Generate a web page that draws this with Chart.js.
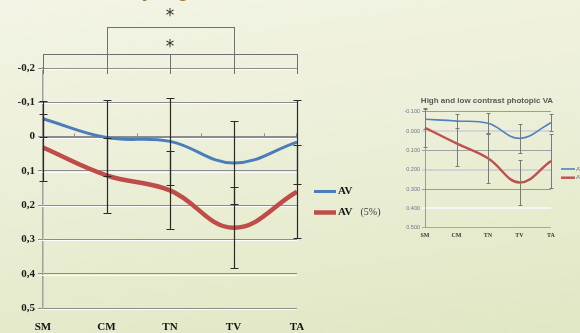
<!DOCTYPE html>
<html>
<head>
<meta charset="utf-8">
<script src="https://cdn.jsdelivr.net/npm/chart.js@4.4.1/dist/chart.umd.min.js"></script>
<style>
  html, body { margin: 0; padding: 0; }
  body {
    width: 580px; height: 333px; overflow: hidden; position: relative;
    background: linear-gradient(172deg, #f3f4e5 0%, #ecefd8 45%, #e0e7c3 100%);
  }
  #heading {
    position: absolute; left: 25px; top: -25px;
    font: 23px "Liberation Sans", sans-serif; color: #9c7d2c; white-space: nowrap;
  }
  #main { position: absolute; left: 0; top: 0; width: 400px; height: 333px; }
  #inset { position: absolute; left: 390px; top: 90px; width: 190px; height: 160px; }
</style>
</head>
<body>
<div id="heading">Visual acuity significance</div>
<canvas id="main" width="400" height="333"></canvas>
<canvas id="inset" width="190" height="160"></canvas>
<script>
// ---- data: main chart (mean and error per category) ----
const categories = ['SM', 'CM', 'TN', 'TV', 'TA'];
const seriesNames = ['AV', 'AV (5%)'];
const avMean  = [-0.052, 0.003, 0.014, 0.077, 0.016];
const avErr   = [0.052, 0.111, 0.127, 0.121, 0.122];
const av5Mean = [0.032, 0.113, 0.157, 0.266, 0.161];
const av5Err  = [0.097, 0.110, 0.114, 0.118, 0.136];
const yTickValues = [-0.2, -0.1, 0, 0.1, 0.2, 0.3, 0.4, 0.5];
const yTickLabels = ['-0,2', '-0,1', '0', '0,1', '0,2', '0,3', '0,4', '0,5'];

// significance brackets between categories
const sigBracketsData = [
  { from: 'SM', to: 'TA', mark: '*', markAt: 'TN' },
  { from: 'CM', to: 'TV', mark: '*', markAt: 'TN' }
];

// ---- data: small chart ----
const insetTitle = 'High and low contrast photopic VA';
const insetAvMean  = [-0.061, -0.052, -0.040, 0.038, -0.043];
const insetAvErr   = [0.051, 0.036, 0.052, 0.075, 0.044];
const insetAv5Mean = [-0.017, 0.064, 0.141, 0.266, 0.155];
const insetAv5Err  = [0.100, 0.116, 0.127, 0.118, 0.139];
const insetYTickValues = [-0.1, 0, 0.1, 0.2, 0.3, 0.4, 0.5];
const insetYTickLabels = ['-0.100', '0.000', '0.100', '0.200', '0.300', '0.400', '0.500'];

// index of the tick closest to a value
const tickIndex = (values, v) => {
  let best = 0;
  values.forEach((t, i) => { if (Math.abs(t - v) < Math.abs(values[best] - v)) best = i; });
  return best;
};

// ---- plugins ----
const errorBars = {
  id: 'errorBars',
  afterDatasetsDraw(chart, args, o) {
    const { ctx } = chart;
    const xs = chart.scales.x, ys = chart.scales.y;
    ctx.save();
    ctx.strokeStyle = o.color;
    ctx.lineWidth = o.width;
    chart.data.datasets.forEach(ds => {
      ds.data.forEach((v, i) => {
        const e = ds.errors[i];
        const px = Math.round(xs.getPixelForValue(i)) + 0.5;
        const y1 = Math.round(ys.getPixelForValue(v - e)) + 0.5;
        const y2 = Math.round(ys.getPixelForValue(v + e)) + 0.5;
        ctx.beginPath();
        ctx.moveTo(px, y1); ctx.lineTo(px, y2);
        ctx.moveTo(px - o.cap, y1); ctx.lineTo(px + o.cap, y1);
        ctx.moveTo(px - o.cap, y2); ctx.lineTo(px + o.cap, y2);
        ctx.stroke();
      });
    });
    ctx.restore();
  }
};

// light highlight under each horizontal gridline, plus the category axis at value 0
const axisDecor = {
  id: 'axisDecor',
  beforeDatasetsDraw(chart, args, o) {
    const { ctx, chartArea } = chart;
    const xs = chart.scales.x, ys = chart.scales.y;
    ctx.save();
    if (o.highlight) {
      ctx.strokeStyle = o.highlight;
      ctx.lineWidth = 1;
      ys.ticks.forEach(t => {
        const py = Math.round(ys.getPixelForValue(t.value)) + 1.5;
        ctx.beginPath();
        ctx.moveTo(chartArea.left - o.tickOut, py);
        ctx.lineTo(chartArea.right, py);
        ctx.stroke();
      });
    }
    if (o.zeroAxis) {
      const y0 = Math.round(ys.getPixelForValue(0)) + 0.5;
      ctx.strokeStyle = o.zeroAxis;
      ctx.lineWidth = 1;
      ctx.beginPath();
      ctx.moveTo(chartArea.left, y0); ctx.lineTo(chartArea.right, y0);
      const n = chart.data.labels.length;
      const step = xs.getPixelForValue(1) - xs.getPixelForValue(0);
      for (let i = 0; i < n; i++) {
        const bx = Math.min(Math.round(xs.getPixelForValue(i) + step / 2), chartArea.right) - 0.5;
        ctx.moveTo(bx, y0); ctx.lineTo(bx, y0 - o.tickUp);
      }
      ctx.stroke();
    }
    ctx.restore();
  }
};

const sideLegend = {
  id: 'sideLegend',
  afterDraw(chart, args, o) {
    const { ctx } = chart;
    ctx.save();
    chart.data.datasets.forEach((ds, i) => {
      const y = o.y + i * o.gap;
      ctx.strokeStyle = ds.borderColor;
      ctx.lineWidth = ds.borderWidth;
      ctx.beginPath();
      ctx.moveTo(o.x, y); ctx.lineTo(o.x + o.len, y);
      ctx.stroke();
      ctx.textBaseline = 'middle';
      ctx.fillStyle = o.color;
      const parts = ds.label.split(' ');
      ctx.font = o.font;
      const tx = o.x + o.len + o.pad;
      ctx.fillText(parts[0], tx, y);
      if (parts.length > 1) {
        const w = ctx.measureText(parts[0]).width;
        ctx.font = o.subFont || o.font;
        ctx.fillStyle = o.subColor || o.color;
        ctx.fillText(parts.slice(1).join(' '), tx + w + o.subGap, y);
      }
    });
    ctx.restore();
  }
};

const sigBrackets = {
  id: 'sigBrackets',
  afterDraw(chart, args, o) {
    const { ctx } = chart;
    const xs = chart.scales.x;
    const labels = chart.data.labels;
    ctx.save();
    ctx.strokeStyle = o.color;
    ctx.lineWidth = 1;
    o.items.forEach((b, k) => {
      const lvl = o.levels[k];
      const i0 = labels.indexOf(b.from), i1 = labels.indexOf(b.to);
      const px = i => Math.round(xs.getPixelForValue(i)) + 0.5;
      ctx.beginPath();
      ctx.moveTo(px(i0), lvl + 0.5); ctx.lineTo(px(i1), lvl + 0.5);
      for (let i = i0; i <= i1; i++) {
        if (k === 0 || i === i0 || i === i1) {
          ctx.moveTo(px(i), lvl); ctx.lineTo(px(i), o.bottom);
        }
      }
      ctx.stroke();
      ctx.fillStyle = o.markColor;
      ctx.font = o.markFont;
      ctx.textAlign = 'center';
      ctx.textBaseline = 'alphabetic';
      ctx.fillText(b.mark, xs.getPixelForValue(labels.indexOf(b.markAt)), lvl + o.markOffsets[k]);
    });
    ctx.restore();
  }
};

const chartTitle = {
  id: 'chartTitle',
  afterDraw(chart, args, o) {
    const { ctx, chartArea } = chart;
    ctx.save();
    ctx.fillStyle = o.color;
    ctx.font = o.font;
    ctx.textAlign = 'center';
    ctx.textBaseline = 'middle';
    ctx.fillText(o.text, (chartArea.left + chartArea.right) / 2 + o.dx, o.y);
    ctx.restore();
  }
};

// ---- main chart ----
new Chart(document.getElementById('main'), {
  type: 'line',
  data: {
    labels: categories,
    datasets: [
      { label: seriesNames[0], data: avMean, errors: avErr,
        borderColor: '#4a7ebb', borderWidth: 3, pointRadius: 0, tension: 0.4, fill: false },
      { label: seriesNames[1], data: av5Mean, errors: av5Err,
        borderColor: '#c04c49', borderWidth: 4.5, pointRadius: 0, tension: 0.4, fill: false }
    ]
  },
  options: {
    responsive: false,
    animation: false,
    layout: { padding: { left: 0, top: 68, right: 103, bottom: 0 } },
    scales: {
      x: {
        afterFit(s) { s.height = 25; },
        grid: { display: false, drawTicks: false },
        border: { display: false },
        ticks: { padding: 13, autoSkip: false, maxRotation: 0, color: '#141414',
                 font: { family: 'Liberation Serif', weight: 'bold', size: 11 } }
      },
      y: {
        reverse: true, min: -0.2, max: 0.5,
        afterFit(s) { s.width = 43; },
        ticks: { stepSize: 0.1, padding: 3, color: '#1b1b1b',
                 font: { family: 'Liberation Serif', weight: 'bold', size: 11 },
                 callback: v => yTickLabels[tickIndex(yTickValues, v)] },
        grid: { color: '#8c8c8c', lineWidth: 1, tickLength: 5 },
        border: { color: '#a0a0a0', width: 1.5 }
      }
    },
    plugins: {
      legend: { display: false },
      tooltip: { enabled: false },
      errorBars: { color: '#2a2a2a', width: 1.2, cap: 4 },
      axisDecor: { highlight: 'rgba(255,255,255,0.9)', tickOut: 5, zeroAxis: '#8a8a8a', tickUp: 4 },
      sideLegend: { x: 314, y: 191.5, gap: 21, len: 22, pad: 2, color: '#161616',
                    font: 'bold 11px "Liberation Serif"', subFont: '10px "Liberation Serif"',
                    subColor: '#3a3a3a', subGap: 8 },
      sigBrackets: { items: sigBracketsData, levels: [54, 27], bottom: 74, color: '#707070',
                     markColor: '#2e2e2e', markFont: '17px "DejaVu Sans"', markOffsets: [-2, -6] }
    }
  },
  plugins: [axisDecor, errorBars, sideLegend, sigBrackets]
});

// ---- small chart ----
const insetGridColors = ['#9c9c9c', '#d6d6d6', '#a2a2a2', '#d2d2d2', '#9a9a9a', '#f6f6f6', '#a8a8a8'];
const insetGridWidths = [1, 2, 1, 2, 1, 2, 1];
const insetGridIndex = c => tickIndex(insetYTickValues, c.tick ? c.tick.value : 0);
new Chart(document.getElementById('inset'), {
  type: 'line',
  data: {
    labels: categories,
    datasets: [
      { label: seriesNames[0], data: insetAvMean, errors: insetAvErr,
        borderColor: '#4f81bd', borderWidth: 1.6, pointRadius: 0, tension: 0.4, fill: false },
      { label: seriesNames[1], data: insetAv5Mean, errors: insetAv5Err,
        borderColor: '#c0504d', borderWidth: 2.4, pointRadius: 0, tension: 0.4, fill: false }
    ]
  },
  options: {
    responsive: false,
    animation: false,
    layout: { padding: { left: 0, top: 21.7, right: 29, bottom: 0 } },
    scales: {
      x: {
        afterFit(s) { s.height = 22.3; },
        grid: { display: false, drawTicks: false },
        border: { display: false },
        ticks: { padding: 4, autoSkip: false, maxRotation: 0, color: '#3a3a3a',
                 font: { family: 'Liberation Serif', weight: 'bold', size: 6 } }
      },
      y: {
        reverse: true, min: -0.1, max: 0.5,
        afterFit(s) { s.width = 35; },
        ticks: { stepSize: 0.1, padding: 2, color: '#6a7590',
                 font: { family: 'Liberation Sans', size: 5.5 },
                 callback: v => insetYTickLabels[tickIndex(insetYTickValues, v)] },
        grid: { color: c => insetGridColors[insetGridIndex(c)],
                lineWidth: c => insetGridWidths[insetGridIndex(c)], tickLength: 3 },
        border: { color: '#9a9a9a', width: 1 }
      }
    },
    plugins: {
      legend: { display: false },
      tooltip: { enabled: false },
      errorBars: { color: '#7a7a7a', width: 1, cap: 2 },
      sideLegend: { x: 171, y: 79, gap: 8.7, len: 14, pad: 1, color: '#6a7590',
                    font: '6px "Liberation Sans"', subGap: 2 },
      chartTitle: { text: insetTitle, y: 11, dx: -1, color: '#595959', font: 'bold 8px "Liberation Sans"' }
    }
  },
  plugins: [errorBars, sideLegend, chartTitle]
});
</script>
</body>
</html>
